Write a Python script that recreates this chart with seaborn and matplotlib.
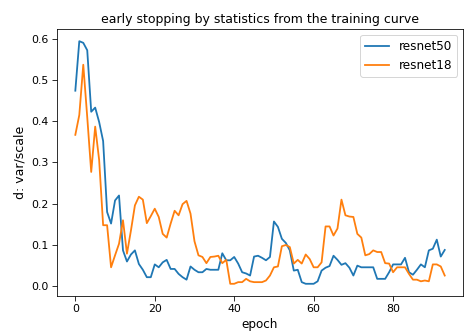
import numpy as np
import pandas as pd
import seaborn as sns
import matplotlib
matplotlib.use("Agg")
import matplotlib.pyplot as plt

# d = var/scale per epoch
resnet50 = [
    0.474, 0.594, 0.590, 0.572, 0.423, 0.433, 0.398, 0.352, 0.180, 0.152,
    0.208, 0.220, 0.087, 0.060, 0.077, 0.087, 0.054, 0.040, 0.022, 0.022,
    0.053, 0.046, 0.058, 0.064, 0.042, 0.042, 0.030, 0.022, 0.016, 0.048,
    0.040, 0.034, 0.034, 0.042, 0.040, 0.040, 0.040, 0.080, 0.063, 0.063,
    0.071, 0.055, 0.034, 0.031, 0.026, 0.072, 0.074, 0.069, 0.063, 0.071,
    0.157, 0.144, 0.115, 0.105, 0.087, 0.038, 0.040, 0.010, 0.006, 0.006,
    0.006, 0.012, 0.038, 0.045, 0.049, 0.074, 0.064, 0.052, 0.056, 0.045,
    0.026, 0.050, 0.046, 0.046, 0.046, 0.046, 0.018, 0.018, 0.018, 0.034,
    0.053, 0.053, 0.053, 0.069, 0.034, 0.028, 0.040, 0.053, 0.046, 0.087,
    0.091, 0.113, 0.072, 0.088,
]
resnet18 = [
    0.367, 0.415, 0.537, 0.410, 0.277, 0.387, 0.306, 0.148, 0.148, 0.046,
    0.075, 0.103, 0.160, 0.079, 0.135, 0.196, 0.217, 0.210, 0.153, 0.170,
    0.188, 0.168, 0.127, 0.118, 0.152, 0.183, 0.172, 0.199, 0.207, 0.176,
    0.109, 0.075, 0.071, 0.056, 0.071, 0.072, 0.074, 0.056, 0.064, 0.006,
    0.006, 0.010, 0.010, 0.018, 0.012, 0.010, 0.010, 0.010, 0.014, 0.026,
    0.046, 0.048, 0.097, 0.100, 0.095, 0.055, 0.064, 0.055, 0.077, 0.066,
    0.046, 0.046, 0.058, 0.145, 0.145, 0.123, 0.140, 0.210, 0.172, 0.169,
    0.168, 0.127, 0.118, 0.075, 0.078, 0.087, 0.083, 0.083, 0.056, 0.055,
    0.034, 0.046, 0.046, 0.046, 0.030, 0.016, 0.016, 0.012, 0.014, 0.012,
    0.053, 0.053, 0.048, 0.026,
]
models = ["resnet50", "resnet18"]
colors = ["#1f77b4", "#ff7f0e"]

epochs = np.arange(len(resnet50))
df = pd.concat([
    pd.DataFrame({"epoch": epochs, "d": resnet50, "model": "resnet50"}),
    pd.DataFrame({"epoch": epochs, "d": resnet18, "model": "resnet18"}),
])

plt.rcParams["font.size"] = 12
plt.rcParams["xtick.labelsize"] = 11
plt.rcParams["ytick.labelsize"] = 11
plt.rcParams["xtick.major.size"] = 5
plt.rcParams["ytick.major.size"] = 5

fig = plt.figure(figsize=(466 / 72, 334 / 72), dpi=72)
ax = fig.add_axes([0.122, 0.114, 0.872, 0.799])
sns.lineplot(data=df, x="epoch", y="d", hue="model", hue_order=models,
             palette=colors, linewidth=1.8, ax=ax)
ax.set_title("early stopping by statistics from the training curve", fontsize=12.5)
ax.set_xlabel("epoch")
ax.set_ylabel("d: var/scale", fontsize=12.5)
ax.legend(loc="upper right")
fig.savefig("out.png", dpi=72)
